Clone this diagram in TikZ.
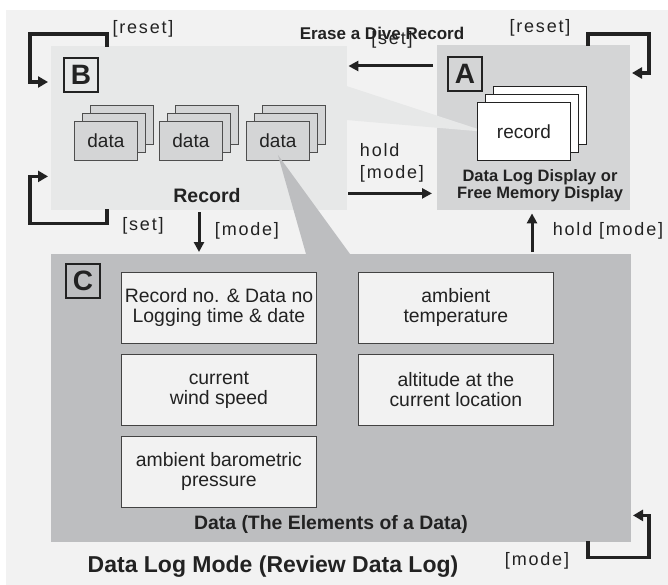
\documentclass[tikz,border=0pt]{standalone}
\usepackage{fontspec}
\setmainfont{Liberation Sans}
\usetikzlibrary{arrows.meta,positioning,calc}
\definecolor{bgcol}{HTML}{F2F2F2}
\definecolor{bcol}{HTML}{E7E8E8}
\definecolor{acol}{HTML}{D4D5D6}
\definecolor{ccol}{HTML}{BDBEC0}
\definecolor{inkcol}{HTML}{222222}
\tikzset{
  panel/.style={fill=#1, draw=none, inner sep=0pt, anchor=north west},
  tag/.style={draw=inkcol, line width=1.8pt, minimum size=34pt, inner sep=0pt,
    anchor=north west, font=\fontsize{28}{28}\selectfont\bfseries, text=inkcol},
  datacard/.style={draw=inkcol!80, fill=acol, line width=0.8pt, inner sep=0pt,
    minimum width=63pt, minimum height=39pt, anchor=north west,
    font=\fontsize{19}{20}\selectfont, text=inkcol},
  reccard/.style={draw=inkcol, fill=white, line width=0.8pt, inner sep=0pt,
    minimum width=93pt, minimum height=58pt, anchor=north west,
    font=\fontsize{19}{20}\selectfont, text=inkcol},
  item/.style={draw=inkcol!85, fill=bgcol, line width=0.9pt, inner sep=0pt,
    minimum width=195pt, minimum height=71pt, align=center,
    font=\fontsize{19.4}{20}\selectfont, text=inkcol},
  caption/.style={font=\fontsize{17}{17}\selectfont\bfseries, text=inkcol, align=center},
  key/.style={font=\fontsize{18}{22}\selectfont\addfontfeature{LetterSpace=10},
    text=inkcol, align=left, inner sep=0pt},
  flow/.style={draw=inkcol, line width=3pt, -{Triangle[length=10pt,width=10pt]}},
  loopback/.style={draw=inkcol, line width=3.4pt, line join=miter,
    -{Triangle[length=10pt,width=11pt]}},
}
\begin{document}
\begin{tikzpicture}[x=1pt,y=-1pt]
\useasboundingbox (0,0) rectangle (668,585);
\fill[bgcol] (6,10) rectangle (668,585);

% panels
\node[panel=bcol, minimum width=296pt, minimum height=164pt] (B) at (51,46) {};
\node[panel=acol, minimum width=193pt, minimum height=165pt] (A) at (437,45) {};
\node[panel=ccol, minimum width=580pt, minimum height=288pt] (C) at (51,254) {};

% callout from the record to panel B
\coordinate (rectip) at (487,132);
\fill[bcol] ($(B.north east)+(-1,40)$) -- (rectip) -- ($(B.north east)+(-1,74)$) -- cycle;

% data stacks
\foreach \i/\x in {1/74,2/159,3/246}{
  \node[datacard] at (\x+16,105) {};
  \node[datacard] at (\x+8,113) {};
  \node[datacard] (d\i) at (\x,121) {data};
}

% callout from a data to panel C
\fill[ccol] ($(d3.center)+(0,14)$) -- ([xshift=255pt]C.north west) -- ([xshift=299pt]C.north west) -- cycle;

% record stack
\node[reccard] at (493,86) {};
\node[reccard] at (485,94) {};
\node[reccard] (rec) at (477,102) {record};

% tags
\node[tag] (tB) at ($(B.north west)+(12,11)$) {B};
\node[tag] (tA) at ($(A.north west)+(10,11)$) {A};
\node[tag] (tC) at ($(C.north west)+(14,9)$) {C};

% captions
\node[caption, font=\fontsize{19.5}{19.5}\selectfont\bfseries] (capB) at (207,196) {Record};
\node[caption, font=\fontsize{16.5}{17}\selectfont\bfseries] (capA) at (540,186) {Data Log Display or\\Free Memory Display};
\node[caption, font=\fontsize{19.4}{19.4}\selectfont\bfseries] (capC) at (331,524) {Data (The Elements of a Data)};
\node[caption, font=\fontsize{23}{23}\selectfont\bfseries] (title) at (273,567) {Data Log Mode (Review Data Log)};

% elements of a data
\node[item, anchor=north west] (i1) at ($(C.north west)+(70,18)$) {Record no. \& Data no\\Logging time \& date};
\node[item, below=10pt of i1] (i2) {current\\wind speed};
\node[item, below=10pt of i2] (i3) {ambient barometric\\pressure};
\node[item, right=41pt of i1] (i4) {ambient\\temperature};
\node[item, right=41pt of i2] (i5) {altitude at the\\current location};

% transitions
\draw[flow] ([xshift=-4pt,yshift=-21pt]A.north west) -- ([xshift=1pt,yshift=-20pt]B.north east);
\draw[flow] ([xshift=1pt,yshift=17pt]B.south east) -- ([xshift=-5pt,yshift=17pt]A.south west);
\draw[flow] ([xshift=148pt,yshift=-2pt]B.south west) -- ([xshift=148pt,yshift=2pt]C.north west);
\draw[flow] ([xshift=481pt,yshift=2pt]C.north west) -- ([xshift=95pt,yshift=-3pt]A.south west);

% loops
\draw[loopback] ([xshift=56pt,yshift=-1pt]B.north west) -- ++(0,-13) -- ++(-77,0) -- ++(0,48) -- ++(18,0);
\draw[loopback] ([xshift=151pt,yshift=-1pt]A.north west) -- ++(0,-12) -- ++(61,0) -- ++(0,39) -- ++(-17,0);
\draw[loopback] ([xshift=56pt,yshift=1pt]B.south west) -- ++(0,14) -- ++(-77,0) -- ++(0,-47) -- ++(18,0);
\draw[loopback] ([xshift=537pt,yshift=1pt]C.south west) -- ++(0,16) -- ++(61,0) -- ++(0,-42) -- ++(-16,0);

% keys
\node[caption] (erase) at (382,33) {Erase a Dive Record};
\node[key] (kset1) at (392,40) {[set]};
\node[key] (kreset1) at (143,29) {[reset]};
\node[key] (kreset2) at (540,28) {[reset]};
\node[key] (kset2) at (143,226) {[set]};
\node[key] (kmode1) at (247,231) {[mode]};
\node[key] (khold1) at (608,231) {hold [mode]};
\node[key] (khold2) at (392,163) {hold\\{[mode]}};
\node[key] (kmode2) at (537,561) {[mode]};
\end{tikzpicture}
\end{document}
